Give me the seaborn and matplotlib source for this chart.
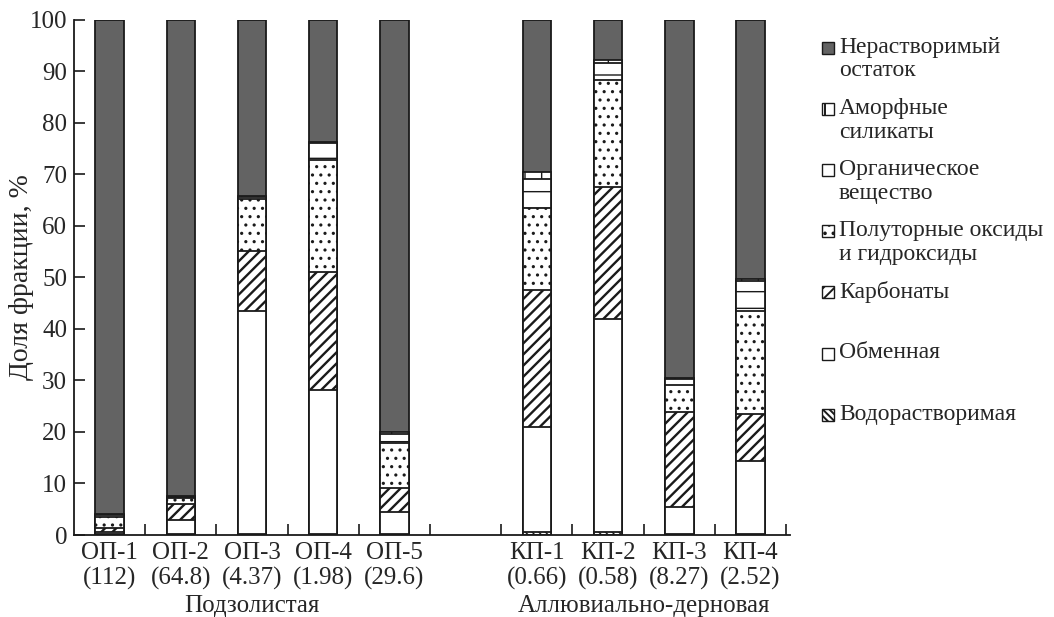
import numpy as np
import pandas as pd
import matplotlib
matplotlib.use('Agg')
import matplotlib.pyplot as plt
from matplotlib.patches import Rectangle
import seaborn as sns

# ---- data (percent of fraction, bottom -> top) ----
samples = ['ОП-1', 'ОП-2', 'ОП-3', 'ОП-4', 'ОП-5', 'КП-1', 'КП-2', 'КП-3', 'КП-4']
sizes = ['112', '64.8', '4.37', '1.98', '29.6', '0.66', '0.58', '8.27', '2.52']
groups = ['Подзолистая', 'Аллювиально-дерновая']

vodorastvorimaya = [0.1, 0.1, 0.2, 0.2, 0.1, 0.5, 0.5, 0.1, 0.1]
obmennaya = [0.5, 2.9, 43.3, 28.0, 4.3, 20.5, 41.5, 5.3, 14.3]
karbonaty = [0.8, 3.1, 11.7, 22.9, 4.7, 26.5, 25.6, 18.4, 9.1]
polutornye = [2.0, 1.0, 10.1, 21.8, 8.7, 16.0, 20.7, 5.3, 20.0]
organika = [0.4, 0.3, 0.3, 3.2, 1.8, 5.6, 3.4, 1.2, 5.9]
amorfnye = [0.2, 0.2, 0.2, 0.3, 0.4, 1.3, 0.5, 0.2, 0.4]
nerastvorimyi = [96.0, 92.4, 34.2, 23.6, 80.0, 29.6, 7.8, 69.5, 50.2]

layer_names = ['Водорастворимая', 'Обменная', 'Карбонаты',
               'Полуторные оксиды\nи гидроксиды', 'Органическое\nвещество',
               'Аморфные\nсиликаты', 'Нерастворимый\nостаток']
layer_values = [vodorastvorimaya, obmennaya, karbonaty, polutornye,
                organika, amorfnye, nerastvorimyi]
layer_colors = ['white', 'white', 'white', 'white', 'white', 'white', '#636363']
layer_hatches = ['\\\\\\\\\\', '', '///', '..', '-', '|', '']
hatch_widths = [1.0, 1.0, 1.7, 1.1, 1.0, 1.0, 1.0]

# ---- style ----
sns.set_theme(style='ticks')
plt.rcParams['font.family'] = ['Liberation Serif', 'DejaVu Serif']
plt.rcParams['hatch.linewidth'] = 1.4
plt.rcParams['hatch.color'] = '#1a1a1a'
FS = 18
EDGE = '#1a1a1a'

# cumulative table
df = pd.DataFrame(layer_values, index=layer_names, columns=samples).T
cum = df.cumsum(axis=1)
order = samples[:5] + [' '] + samples[5:]

fig = plt.figure(figsize=(10.54, 6.17), dpi=100)
ax = fig.add_axes([0.0702, 0.1329, 0.679, 0.8347])

# draw from the top layer down so each lower layer covers the one above it
for name, color, hatch, hw in reversed(list(zip(layer_names, layer_colors,
                                                layer_hatches, hatch_widths))):
    d = pd.DataFrame({'sample': samples, 'value': cum[name].values})
    n_before = len(ax.patches)
    sns.barplot(data=d, x='sample', y='value', order=order, color=color,
                saturation=1, width=0.4, errorbar=None, hatch=hatch,
                edgecolor=EDGE, linewidth=1.3, ax=ax)
    for p in ax.patches[n_before:]:
        if hasattr(p, 'set_hatch_linewidth'):
            p.set_hatch_linewidth(hw)

ax.set_xlim(-0.5, 9.55)
ax.set_ylim(0, 100)
ax.set_xlabel('')
ax.set_ylabel('Доля фракции, %', fontsize=20, labelpad=-3)

# tick marks between bars, labels under bars
ax.set_xticks(np.arange(0.5, 10, 1.0))
ax.set_xticklabels([])
pos = [i for i, o in enumerate(order) if o.strip()]
ax.set_xticks(pos, [f'{s}\n({n})' for s, n in zip(samples, sizes)], minor=True)
ax.tick_params(axis='x', which='major', direction='in', length=8, width=1.2, color=EDGE)
ax.tick_params(axis='x', which='minor', length=0, pad=5, labelsize=FS)
ax.set_yticks(np.arange(0, 101, 10))
ax.tick_params(axis='y', direction='in', length=8, width=1.2, color=EDGE, labelsize=FS, pad=5)
for lab in ax.get_xticklabels(minor=True):
    lab.set_linespacing(1.18)

sns.despine(ax=ax)
for sp in ['left', 'bottom']:
    ax.spines[sp].set_linewidth(1.3)
    ax.spines[sp].set_color(EDGE)

# group names under the sample labels
ax.text(2, -0.137, groups[0], transform=ax.get_xaxis_transform(),
        ha='center', va='center', fontsize=FS)
ax.text(7.5, -0.137, groups[1], transform=ax.get_xaxis_transform(),
        ha='center', va='center', fontsize=FS)

# legend, top entry first
W, H = 1054.0, 617.0
for i, (name, color, hatch) in enumerate(reversed(list(zip(layer_names, layer_colors, layer_hatches)))):
    yc = 48 + i * 61.1
    fig.add_artist(Rectangle((822 / W, 1 - (yc + 6) / H), 12 / W, 12 / H,
                             transform=fig.transFigure, facecolor=color,
                             edgecolor=EDGE, hatch=hatch if hatch != '-' else '',
                             linewidth=1.0))
    fig.text(839 / W, 1 - (yc - 11) / H, name, ha='left', va='top',
             fontsize=17, linespacing=1.15)

fig.savefig('out.png', dpi=100)
